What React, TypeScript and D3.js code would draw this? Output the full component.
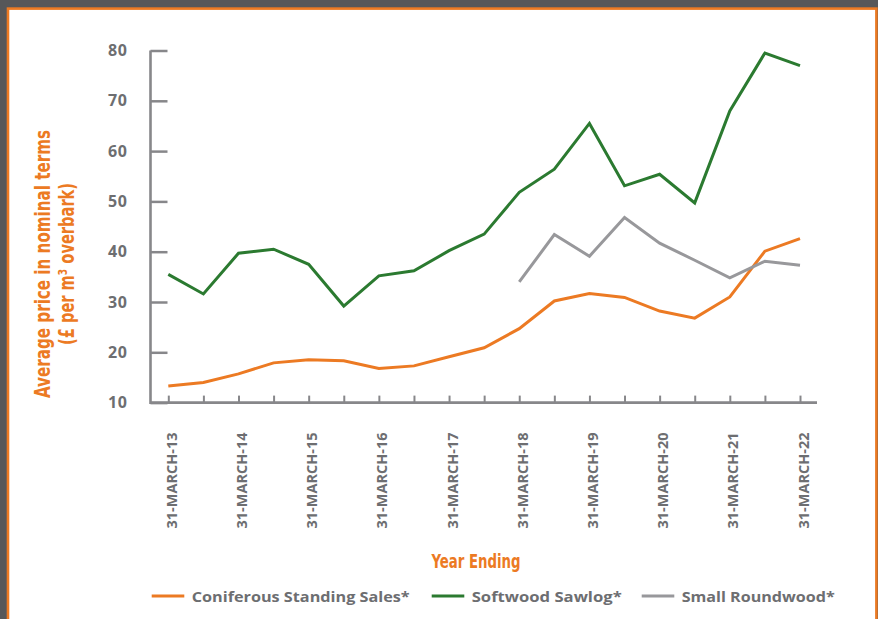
import React, { useEffect, useRef } from "react";
import * as d3 from "d3";

// half-yearly periods, only the March ones get a label
const periods = [
  "31-MARCH-13", "30-SEPT-13", "31-MARCH-14", "30-SEPT-14", "31-MARCH-15",
  "30-SEPT-15", "31-MARCH-16", "30-SEPT-16", "31-MARCH-17", "30-SEPT-17",
  "31-MARCH-18", "30-SEPT-18", "31-MARCH-19", "30-SEPT-19", "31-MARCH-20",
  "30-SEPT-20", "31-MARCH-21", "30-SEPT-21", "31-MARCH-22",
];

const coniferous = [
  13.3, 14.0, 15.7, 17.9, 18.5, 18.3, 16.8, 17.3, 19.1, 20.9,
  24.7, 30.2, 31.7, 30.9, 28.2, 26.8, 31.0, 40.1, 42.6,
];
const sawlog = [
  35.5, 31.6, 39.7, 40.5, 37.5, 29.2, 35.2, 36.2, 40.2, 43.5,
  51.8, 56.4, 65.5, 53.1, 55.4, 49.7, 68.0, 79.5, 77.0,
];
const roundwood: (number | null)[] = [
  null, null, null, null, null, null, null, null, null, null,
  34.0, 43.4, 39.1, 46.8, 41.7, 38.3, 34.8, 38.1, 37.3,
];

const yTicks = [10, 20, 30, 40, 50, 60, 70, 80];
const seriesNames = ["Coniferous Standing Sales*", "Softwood Sawlog*", "Small Roundwood*"];

const ORANGE = "#ec7a23";
const GREEN = "#2b7a30";
const LINE_GREY = "#98989b";
const AXIS_GREY = "#87878a";
const TEXT_GREY = "#6d6e71";
const FRAME = "#565759";

const W = 878,
  H = 619;

const App = () => {
  const svgRef = useRef<SVGSVGElement>(null);

  useEffect(() => {
    const svg = d3.select(svgRef.current);
    svg.selectChildren().remove();

    // frame
    svg.append("rect").attr("width", W).attr("height", H).attr("fill", FRAME);
    svg
      .append("rect")
      .attr("x", 8)
      .attr("y", 8.6)
      .attr("width", 868.4)
      .attr("height", 640)
      .attr("fill", "#fff")
      .attr("stroke", ORANGE)
      .attr("stroke-width", 2.6);

    const x = d3
      .scalePoint<number>()
      .domain(d3.range(periods.length))
      .range([168.3, 800]);
    const y = d3.scaleLinear().domain([10, 80]).range([402.6, 50.5]);

    const axisX0 = 150.5,
      axisX1 = 817,
      axisY = y(10);

    const g = svg.append("g");

    // y axis ticks + labels
    const yAxis = g
      .append("g")
      .attr("transform", `translate(${axisX0},0)`)
      .call(
        d3
          .axisLeft(y)
          .tickValues(yTicks)
          .tickSizeInner(-17)
          .tickSizeOuter(0)
          .tickPadding(23)
          .tickFormat(d3.format("d"))
      );
    yAxis.select(".domain").remove();
    yAxis.selectAll("line").attr("stroke", AXIS_GREY).attr("stroke-width", 2.5);
    yAxis
      .selectAll("text")
      .attr("fill", TEXT_GREY)
      .attr("font-family", "'Open Sans', sans-serif")
      .attr("font-weight", 700)
      .attr("font-size", 16)
      .attr("letter-spacing", 0.6);

    // x axis ticks
    const xAxis = g
      .append("g")
      .attr("transform", `translate(0,${axisY})`)
      .call(d3.axisBottom(x).tickSizeInner(-7).tickSizeOuter(0).tickFormat(() => ""));
    xAxis.select(".domain").remove();
    xAxis.selectAll("line").attr("stroke", AXIS_GREY).attr("stroke-width", 2);

    // axis lines
    g.append("path")
      .attr("d", `M${axisX0},${y(80)}V${axisY}H${axisX1}`)
      .attr("fill", "none")
      .attr("stroke", AXIS_GREY)
      .attr("stroke-width", 2.6);

    // x labels
    g.append("g")
      .selectAll("text")
      .data(periods.map((p, i) => ({ p, i })).filter((d) => d.i % 2 === 0))
      .enter()
      .append("text")
      .attr("transform", (d) => `translate(${(x(d.i) as number) + 8.5},528.5) rotate(-90)`)
      .attr("fill", TEXT_GREY)
      .attr("font-family", "'Open Sans', sans-serif")
      .attr("font-weight", 700)
      .attr("font-size", 14.5)
      .text((d) => d.p);

    // lines
    const line = d3
      .line<number | null>()
      .defined((d) => d !== null)
      .x((_, i) => x(i) as number)
      .y((d) => y(d as number));

    const series = [
      { values: coniferous as (number | null)[], color: ORANGE },
      { values: sawlog as (number | null)[], color: GREEN },
      { values: roundwood, color: LINE_GREY },
    ];

    g.append("g")
      .selectAll("path")
      .data(series)
      .enter()
      .append("path")
      .attr("d", (d) => line(d.values))
      .attr("fill", "none")
      .attr("stroke", (d) => d.color)
      .attr("stroke-width", 3)
      .attr("stroke-linejoin", "miter");

    // y title
    const narrow = "'Liberation Sans Narrow', 'DejaVu Sans Condensed', 'Roboto', sans-serif";
    const yTitle = g.append("g").attr("transform", "translate(0,264) rotate(-90)");
    yTitle
      .append("text")
      .attr("x", 0)
      .attr("y", 50)
      .attr("text-anchor", "middle")
      .attr("fill", ORANGE)
      .attr("font-family", narrow)
      .attr("font-weight", 700)
      .attr("font-size", 21)
      .attr("textLength", 268)
      .attr("lengthAdjust", "spacingAndGlyphs")
      .text("Average price in nominal terms");
    yTitle
      .append("text")
      .attr("x", 0)
      .attr("y", 74)
      .attr("text-anchor", "middle")
      .attr("fill", ORANGE)
      .attr("font-family", narrow)
      .attr("font-weight", 700)
      .attr("font-size", 21)
      .attr("textLength", 162)
      .attr("lengthAdjust", "spacingAndGlyphs")
      .text("(£ per m³ overbark)");

    // x title
    g.append("text")
      .attr("x", 476)
      .attr("y", 568)
      .attr("text-anchor", "middle")
      .attr("fill", ORANGE)
      .attr("font-family", narrow)
      .attr("font-weight", 700)
      .attr("font-size", 19)
      .attr("textLength", 89)
      .attr("lengthAdjust", "spacingAndGlyphs")
      .text("Year Ending");

    // legend
    const legendX = [151.7, 431.7, 641.7];
    const legendW = [218, 150, 153];
    const legend = g
      .append("g")
      .selectAll("g")
      .data(series)
      .enter()
      .append("g")
      .attr("transform", (_, i) => `translate(${legendX[i]},596)`);
    legend
      .append("line")
      .attr("x1", 0)
      .attr("x2", 32.6)
      .attr("stroke", (d) => d.color)
      .attr("stroke-width", 3);
    legend
      .append("text")
      .attr("x", 40)
      .attr("y", 5.5)
      .attr("fill", TEXT_GREY)
      .attr("font-family", "'Open Sans', sans-serif")
      .attr("font-weight", 700)
      .attr("font-size", 15)
      .attr("textLength", (_, i) => legendW[i])
      .attr("lengthAdjust", "spacingAndGlyphs")
      .text((_, i) => seriesNames[i]);
  }, []);

  return (
    <svg
      ref={svgRef}
      width={W}
      height={H}
      style={{ position: "absolute", left: 0, top: 0, display: "block" }}
    />
  );
};

export default App;
